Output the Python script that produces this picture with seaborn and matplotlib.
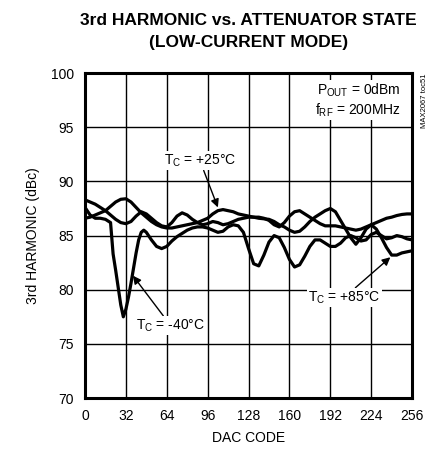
import numpy as np
import pandas as pd
import matplotlib
matplotlib.use('Agg')
import matplotlib.pyplot as plt
import seaborn as sns

# DAC code vs 3rd harmonic (dBc)
codes = list(range(0, 257, 4))

h_p25 = [86.6, 86.7, 86.9, 87.1, 87.3, 87.7, 88.1, 88.35, 88.4, 88.1, 87.6, 87.1, 86.7,
         86.3, 86.0, 85.8, 85.7, 85.7, 85.8, 85.9, 86.0, 86.1, 86.2, 86.4, 86.6, 87.0,
         87.3, 87.4, 87.3, 87.2, 87.0, 86.9, 86.8, 86.7, 86.7, 86.6, 86.4, 86.0, 85.8,
         86.2, 86.8, 87.2, 87.3, 87.0, 86.7, 86.4, 86.1, 85.9, 85.9, 85.9, 85.8, 85.7,
         85.6, 85.5, 85.6, 85.8, 86.0, 86.2, 86.4, 86.6, 86.7, 86.85, 86.95, 87.0, 87.0]

h_p85 = [88.3, 88.1, 87.9, 87.6, 87.3, 86.9, 86.5, 86.2, 86.1, 86.3, 86.8, 87.2, 87.0,
         86.6, 86.2, 85.9, 85.8, 86.2, 86.8, 87.1, 86.9, 86.5, 86.2, 86.0, 86.1, 86.3,
         86.2, 86.0, 86.1, 86.3, 86.5, 86.6, 86.7, 86.7, 86.6, 86.55, 86.5, 86.3, 86.0,
         85.8, 85.5, 85.3, 85.4, 85.8, 86.3, 86.7, 87.0, 87.3, 87.5, 87.2, 86.4, 85.6,
         84.8, 84.2, 84.8, 85.6, 86.0, 85.6, 84.8, 83.9, 83.2, 83.2, 83.4, 83.5, 83.6]

codes_m40 = [0, 4, 8, 12, 16, 20, 22, 24, 26, 28, 30, 32, 34, 36, 38, 40, 42, 44, 46, 48,
             52, 56, 60, 64, 68, 72, 76, 80, 84, 88, 92, 96, 100, 104, 108, 112, 116, 120,
             124, 128, 132, 136, 140, 144, 148, 152, 156, 160, 164, 168, 172, 176, 180,
             184, 188, 192, 196, 200, 204, 208, 212, 216, 220, 224, 228, 232, 236, 240,
             244, 248, 252, 256]
h_m40 = [87.6, 86.9, 86.6, 86.6, 86.5, 86.2, 83.3, 81.8, 80.2, 78.6, 77.5, 78.2, 79.3,
         80.6, 82.0, 83.4, 84.6, 85.3, 85.5, 85.3, 84.6, 84.0, 83.8, 84.0, 84.5, 84.9,
         85.2, 85.5, 85.7, 85.8, 85.8, 85.7, 85.5, 85.3, 85.4, 85.8, 86.0, 85.9, 85.3,
         83.8, 82.4, 82.2, 83.2, 84.4, 85.0, 84.8, 83.9, 82.8, 82.1, 82.3, 83.1, 84.0,
         84.6, 84.6, 84.3, 84.0, 84.0, 84.3, 84.8, 85.0, 84.8, 84.5, 84.6, 85.1, 85.3,
         85.0, 84.7, 84.8, 85.0, 84.9, 84.7, 84.6]

df = pd.concat([
    pd.DataFrame({'code': codes, 'h3': h_p25, 'temp': '+25'}),
    pd.DataFrame({'code': codes, 'h3': h_p85, 'temp': '+85'}),
    pd.DataFrame({'code': codes_m40, 'h3': h_m40, 'temp': '-40'}),
])

sns.set_style('white')
plt.rcParams['font.family'] = ['Liberation Sans', 'DejaVu Sans']
plt.rcParams['mathtext.default'] = 'regular'
plt.rcParams['text.color'] = 'black'
plt.rcParams['axes.labelcolor'] = 'black'

fig = plt.figure(figsize=(4.37, 4.57), dpi=100)
ax = fig.add_axes([0.1945, 0.129, 0.7485, 0.711])

sns.lineplot(data=df, x='code', y='h3', hue='temp', palette=['black'] * 3,
             linewidth=2.3, legend=False, ax=ax, sort=False, zorder=3)

ax.set_xlim(0, 256)
ax.set_ylim(70, 100)
ax.set_xticks(range(0, 257, 32))
ax.set_yticks(range(70, 101, 5))
ax.grid(True, color='black', linewidth=1.0)
ax.tick_params(length=0, labelsize=10, pad=8, colors='black')
for s in ax.spines.values():
    s.set_linewidth(2.2)
    s.set_color('black')

ax.set_xlabel('DAC CODE', fontsize=10, labelpad=6)
ax.set_ylabel('3rd HARMONIC (dBc)', fontsize=10, labelpad=8)

fig.text(0.568, 0.956, '3rd HARMONIC vs. ATTENUATOR STATE', ha='center', va='center',
         fontsize=12.5, fontweight='bold')
fig.text(0.568, 0.908, '(LOW-CURRENT MODE)', ha='center', va='center',
         fontsize=12.5, fontweight='bold')

box = dict(facecolor='white', edgecolor='none', pad=1)
ax.text(247, 98.4, '$P_{OUT}$ = 0dBm', ha='right', va='center', fontsize=10, bbox=box, zorder=4)
ax.text(247, 96.6, '$f_{RF}$ = 200MHz', ha='right', va='center', fontsize=10, bbox=box, zorder=4)
fig.text(0.972, 0.84, 'MAX2067 toc51', rotation=90, ha='center', va='top', fontsize=5.5)

arrow = dict(arrowstyle='-|>', color='black', lw=1.0, mutation_scale=12, shrinkA=0, shrinkB=0)
ax.annotate('$T_C$ = +25°C', xy=(104, 87.6), xytext=(90, 91.9), ha='center', va='center',
            fontsize=10, bbox=box, arrowprops=arrow, zorder=4)
ax.annotate('$T_C$ = -40°C', xy=(37.5, 81.3), xytext=(67, 76.7), ha='center', va='center',
            fontsize=10, bbox=box, arrowprops=arrow, zorder=4)
ax.annotate('$T_C$ = +85°C', xy=(239, 83.0), xytext=(203, 79.3), ha='center', va='center',
            fontsize=10, bbox=box, arrowprops=arrow, zorder=4)

fig.savefig('out.png', dpi=100)
